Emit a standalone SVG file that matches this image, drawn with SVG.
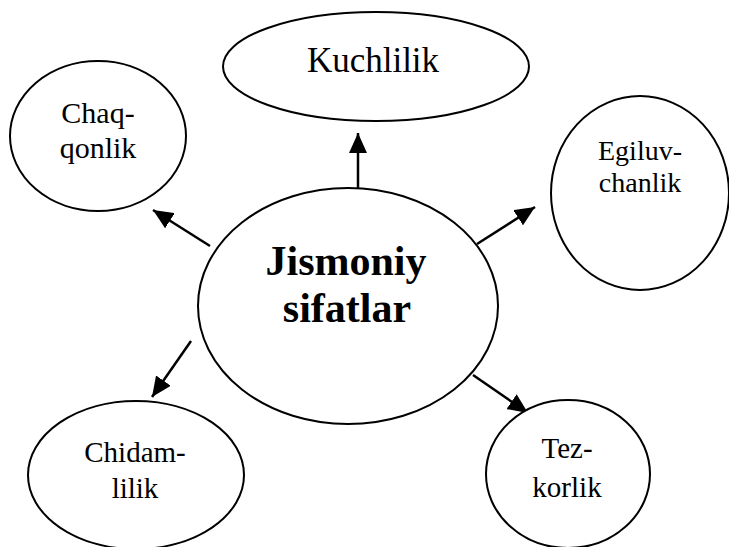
<svg xmlns="http://www.w3.org/2000/svg" width="729" height="547" viewBox="0 0 729 547">
<style>
.n{fill:#fff;stroke:#000;stroke-width:2}
.t{font-family:"Liberation Serif","Times New Roman",serif;fill:#000;text-anchor:middle}
.c{stroke:#000;stroke-width:2.5;fill:none;marker-end:url(#ah)}
</style>
<defs>
<marker id="ah" markerUnits="userSpaceOnUse" markerWidth="20" markerHeight="18" viewBox="0 0 20 18" refX="20" refY="9" orient="auto">
<path d="M0,0 L20,9 L0,18 Z" fill="#000"/>
</marker>
</defs>
<rect width="729" height="547" fill="#fff"/>
<g id="connectors">
<line class="c" x1="358" y1="188" x2="358" y2="133"/>
<line class="c" x1="210" y1="246" x2="153" y2="210"/>
<line class="c" x1="477" y1="244" x2="535" y2="207"/>
<line class="c" x1="473" y1="375" x2="528" y2="413"/>
<line class="c" x1="191" y1="341" x2="152" y2="397"/>
</g>
<g id="kuchlilik">
<ellipse class="n" cx="376" cy="66.5" rx="153" ry="54.5"/>
<text class="t" x="373" y="72" font-size="35">Kuchlilik</text>
</g>
<g id="chaqqonlik">
<ellipse class="n" cx="98" cy="136" rx="88" ry="75"/>
<text class="t" x="98" y="123" font-size="30">Chaq-</text>
<text class="t" x="98" y="158" font-size="30">qonlik</text>
</g>
<g id="egiluvchanlik">
<ellipse class="n" cx="640" cy="193" rx="89" ry="97"/>
<text class="t" x="640" y="160" font-size="28">Egiluv-</text>
<text class="t" x="640" y="192" font-size="28">chanlik</text>
</g>
<g id="jismoniy">
<ellipse class="n" cx="348" cy="306" rx="150" ry="118"/>
<text class="t" x="346" y="275" font-size="42" font-weight="bold">Jismoniy</text>
<text class="t" x="347" y="322" font-size="42" font-weight="bold">sifatlar</text>
</g>
<g id="chidamlilik">
<ellipse class="n" cx="136" cy="475" rx="108" ry="74"/>
<text class="t" x="135" y="462" font-size="29">Chidam-</text>
<text class="t" x="135" y="498" font-size="29">lilik</text>
</g>
<g id="tezkorlik">
<ellipse class="n" cx="568" cy="474" rx="82" ry="74"/>
<text class="t" x="567" y="458" font-size="29">Tez-</text>
<text class="t" x="567" y="497" font-size="29">korlik</text>
</g>
</svg>
